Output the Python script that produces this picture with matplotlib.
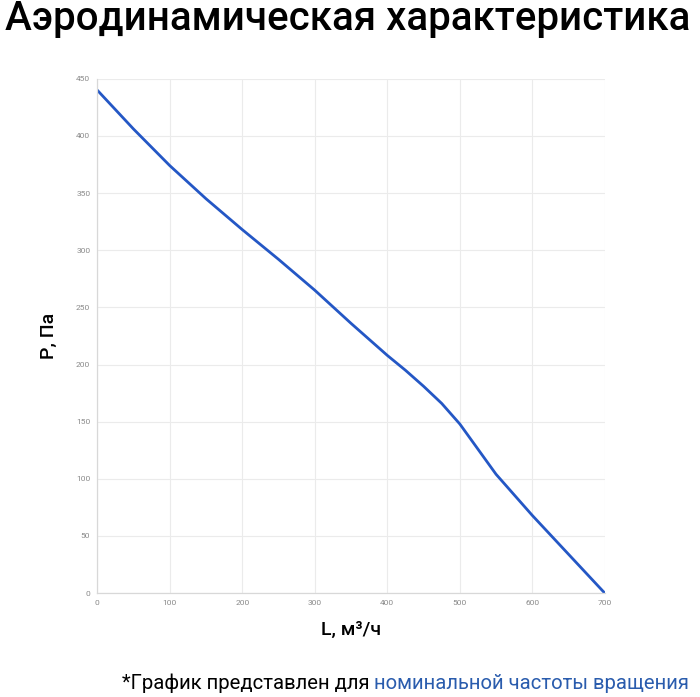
import matplotlib
matplotlib.use("Agg")
import matplotlib.pyplot as plt
from matplotlib.ticker import MultipleLocator

# flow rate, m3/h and pressure, Pa
flow = [0, 50, 100, 150, 200, 250, 300, 350, 400, 425, 450, 475, 500, 525, 550, 600, 650, 700]
pressure = [440, 406, 374, 345, 318, 292, 265, 236, 208, 195, 181, 166, 148, 126, 104, 68, 34, 0]

title = "Аэродинамическая характеристика"
xlabel = "L, м³/ч"
ylabel = "P, Па"
note_black = "*График представлен для "
note_blue = "номинальной частоты вращения"

plt.rcParams['font.family'] = ['Roboto', 'DejaVu Sans']

fig = plt.figure(figsize=(7, 6.97), dpi=100)
ax = fig.add_axes([0.139, 0.149, 0.725, 0.738])

ax.plot(flow, pressure, color='#2457c5', linewidth=2.0, solid_capstyle='round',
        solid_joinstyle='round')

ax.set_xlim(0, 700)
ax.set_ylim(0, 450)
ax.xaxis.set_major_locator(MultipleLocator(100))
ax.yaxis.set_major_locator(MultipleLocator(50))
ax.grid(True, color='#ebebeb', linewidth=0.8)
ax.set_axisbelow(True)
for side in ['top', 'right']:
    ax.spines[side].set_visible(False)
for side in ['left', 'bottom']:
    ax.spines[side].set_color('#d8d8d8')
    ax.spines[side].set_linewidth(0.9)
ax.tick_params(length=0, labelsize=6, labelcolor='#8a8a8a', pad=5)

ax.set_xlabel(xlabel, fontsize=14, fontweight='medium', labelpad=11)
ax.set_ylabel(ylabel, fontsize=14, fontweight='medium', labelpad=13)

fig.text(0.007, 0.973, title, fontsize=29, fontweight='medium', ha='left', va='center',
         color='black')

# footnote in two colours, second part placed right after the first
t1 = fig.text(0.174, 0.02, note_black, fontsize=14.6, ha='left', va='center', color='black')
fig.canvas.draw()
bb = t1.get_window_extent(renderer=fig.canvas.get_renderer())
x_next = bb.x1 / fig.bbox.width
fig.text(x_next, 0.02, note_blue, fontsize=14.6, ha='left', va='center', color='#2a5cad')

fig.savefig("out.png", dpi=100, facecolor='white')
